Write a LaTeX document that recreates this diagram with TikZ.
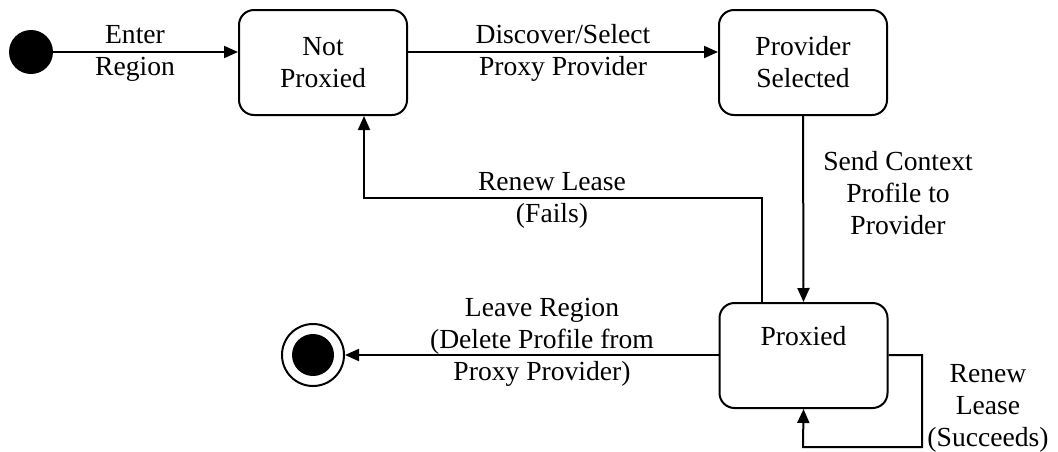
\documentclass[tikz,border=0pt]{standalone}
\usepackage{fontspec}
\setmainfont{Liberation Serif}
\usetikzlibrary{arrows.meta}
\begin{document}
\begin{tikzpicture}[x=0.5pt,y=-0.5pt,
  every node/.style={font=\fontsize{13.8pt}{16pt}\selectfont},
  statebox/.style={draw, line width=1pt, rounded corners=7.5pt, minimum width=84pt, minimum height=52.5pt, inner sep=0pt, align=center},
  lbl/.style={align=center, inner sep=0pt},
  conn/.style={line width=1pt, -{Triangle[length=7pt,width=6pt]}},
  plain/.style={line width=1pt}]
\useasboundingbox (0,0) rectangle (1058,451);
% states
\node[circle, fill=black, minimum size=22pt, inner sep=0pt] (start) at (31,52) {};
\node[statebox] (np) at (323,62.5) {Not\\Proxied};
\node[statebox] (ps) at (803,62.5) {Provider\\Selected};
\node[draw, line width=1pt, rounded corners=7.5pt, minimum width=84pt, inner sep=0pt, text height=21pt, text depth=31.5pt] (px) at (803.5,355.5) {Proxied};
\node[circle, draw, line width=1pt, minimum size=31pt, inner sep=0pt] (fin) at (313,355) {};
\node[circle, fill=black, minimum size=21pt, inner sep=0pt] at (fin) {};
% helper coordinates
\coordinate (fa) at (762,198);
\coordinate (fb) at (364,198);
\coordinate (sa) at (922,355);
\coordinate (sb) at (922,447);
\coordinate (sc) at (803,447);
% connectors
\draw[conn] (start) -- (start -| np.west);
\draw[conn] (start -| np.east) -- (start -| ps.west);
\draw[conn] (ps.south) -- (px.north);
\draw[conn] (fa |- px.north) -- (fa) -- (fb) -- (fb |- np.south);
\draw[conn] (px.west |- fin) -- (fin.east);
\draw[conn] (px.east |- sa) -- (sa) -- (sb) -- (sc) -- (px.south);
% labels
\node[lbl] (l1) at (135,53) {Enter\\Region};
\node[lbl] (l2) at (563,53) {Discover/Select\\Proxy Provider};
\node[lbl] (l3) at (898,193) {Send Context\\Profile to\\Provider};
\node[lbl] (l4) at (552,200) {Renew Lease\\(Fails)};
\node[lbl] (l5) at (542,342) {Leave Region\\(Delete Profile from\\Proxy Provider)};
\node[lbl] (l6) at (988,408) {Renew\\Lease\\(Succeeds)};
\end{tikzpicture}
\end{document}
